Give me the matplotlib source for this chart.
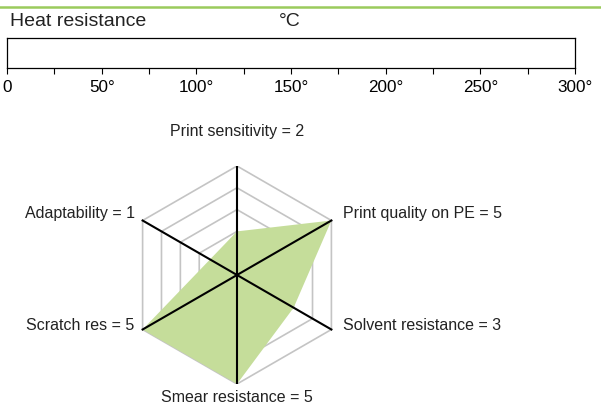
import numpy as np
import matplotlib
matplotlib.use("Agg")
import matplotlib.pyplot as plt
from matplotlib.lines import Line2D

plt.rcParams['font.family'] = ['Liberation Sans', 'DejaVu Sans']

# heat resistance scale (degrees C)
heat_ticks = [0, 50, 100, 150, 200, 250, 300]
heat_labels = ['0', '50°', '100°', '150°', '200°', '250°', '300°']

# radar data
categories = ['Print sensitivity', 'Print quality on PE', 'Solvent resistance',
              'Smear resistance', 'Scratch res', 'Adaptability']
values = [2, 5, 3, 5, 5, 1]
levels = [1, 2, 3, 4, 5]

W, H = 601, 407
fig = plt.figure(figsize=(W / 100, H / 100), dpi=100)

# green rule at the top
fig.add_artist(Line2D([0, 1], [1 - 7 / H, 1 - 7 / H], color='#9bcb5c', lw=1.8))

fig.text(10 / W, 1 - 21 / H, 'Heat resistance', fontsize=14, color='#222222',
         va='center', ha='left')
fig.text(279 / W, 1 - 21 / H, '°C', fontsize=14, color='#222222',
         va='center', ha='left')

# heat resistance bar (empty)
bx = fig.add_axes([7 / W, 1 - 68 / H, (575 - 7) / W, 30 / H])
bx.set_xlim(0, 300)
bx.set_ylim(0, 1)
bx.set_yticks([])
bx.set_xticks(heat_ticks)
bx.set_xticklabels(heat_labels, fontsize=12.3)
bx.set_xticks([25, 75, 125, 175, 225, 275], minor=True)
bx.tick_params(axis='x', which='both', direction='out', length=4.5, width=0.8, pad=4)
for s in bx.spines.values():
    s.set_linewidth(0.9)

# radar chart
cx, cy, R = 237, 275, 109
ax = fig.add_axes([(cx - R) / W, 1 - (cy + R) / H, 2 * R / W, 2 * R / H])
ax.set_xlim(-5, 5)
ax.set_ylim(-5, 5)
ax.axis('off')

n = len(categories)
ang = np.pi / 2 - np.arange(n) * 2 * np.pi / n
ux, uy = np.cos(ang), np.sin(ang)

for lv in levels:
    ax.plot(np.append(ux, ux[0]) * lv, np.append(uy, uy[0]) * lv,
            color='#c4c4c4', lw=1.2, zorder=1)

# filled area: outline of the data points
pts = sorted(zip(ux * np.array(values), uy * np.array(values)))


def cross(o, a, b):
    return (a[0] - o[0]) * (b[1] - o[1]) - (a[1] - o[1]) * (b[0] - o[0])


lower, upper = [], []
for p in pts:
    while len(lower) >= 2 and cross(lower[-2], lower[-1], p) <= 0:
        lower.pop()
    lower.append(p)
for p in reversed(pts):
    while len(upper) >= 2 and cross(upper[-2], upper[-1], p) <= 0:
        upper.pop()
    upper.append(p)
hull = np.array(lower[:-1] + upper[:-1])
ax.fill(hull[:, 0], hull[:, 1], color='#c5dd9a', lw=0, zorder=2)

for i in range(n):
    ax.plot([0, ux[i] * 5], [0, uy[i] * 5], color='black', lw=1.5, zorder=3)

# label anchors (x, y offset, alignment)
label_pos = [(0, 6.6, 'center'), (4.86, 0.3, 'left'), (4.86, 0.2, 'left'),
             (0, -5.64, 'center'), (-4.7, 0.2, 'right'), (-4.7, 0.3, 'right')]
for i, (cat, v) in enumerate(zip(categories, values)):
    lx, off, ha = label_pos[i]
    if ha == 'center':
        tx, ty = 0, off
    else:
        tx, ty = lx, uy[i] * 5 + off
    ax.text(tx, ty, f'{cat} = {v}', ha=ha, va='center',
            fontsize=11.5, color='#222222', clip_on=False)

fig.savefig('out.png', dpi=100)
